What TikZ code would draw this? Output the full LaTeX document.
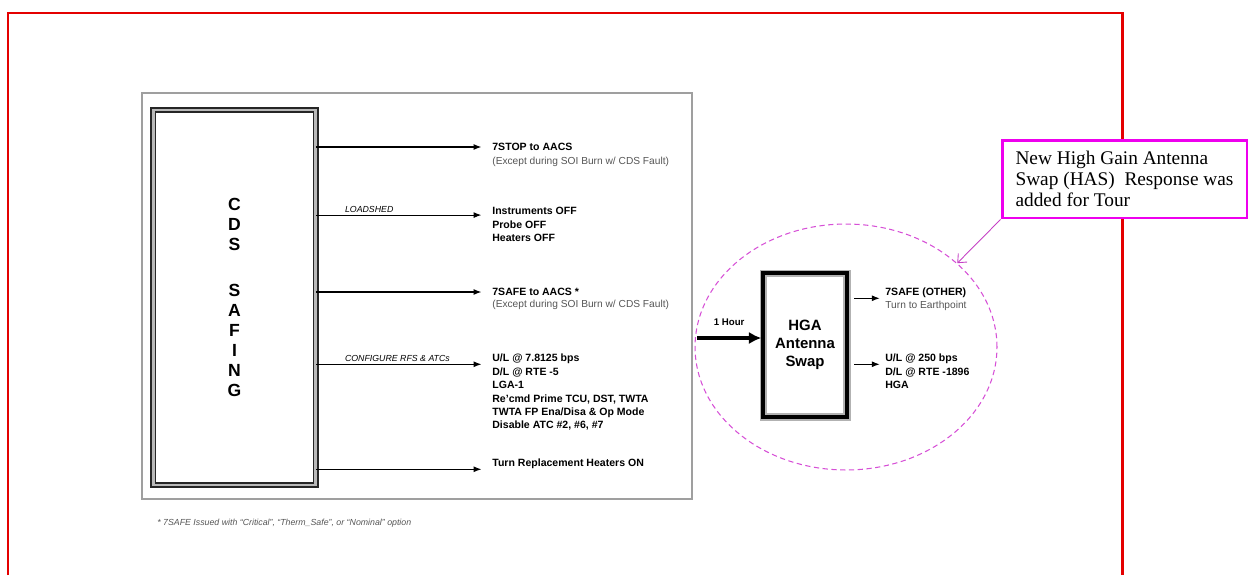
\documentclass[tikz,border=0pt]{standalone}
\usepackage{fontspec}
\setmainfont{Liberation Sans}
\newfontfamily\notefont{Liberation Serif}
\usepackage{xcolor}
\usepackage{tikz}
\usetikzlibrary{arrows.meta, shapes.geometric, positioning}

\definecolor{framered}{RGB}{228,0,0}
\definecolor{notepink}{RGB}{238,0,238}
\definecolor{loopink}{RGB}{214,80,214}
\definecolor{subgray}{RGB}{85,85,85}

\begin{document}
\begin{tikzpicture}[x=0.02cm, y=-0.02cm, >={Latex[length=4.5pt, width=3.4pt]},
    cmd/.style={->, line width=0.6pt, shorten >=#1}, cmd/.default=6pt,
    head/.style={font=\fontsize{6}{7.6}\selectfont\bfseries, inner sep=0pt, align=left, anchor=west},
    sub/.style={font=\fontsize{5.8}{7.6}\selectfont, text=subgray, inner sep=0pt, align=left, anchor=west},
    lab/.style={font=\fontsize{5}{6}\selectfont\itshape, inner sep=1pt, anchor=south west},
    safebox/.style={draw=black!85, double=gray!55, double distance=1.6pt, line width=0.8pt,
        minimum width=3.25cm, minimum height=7.5cm, align=center,
        font=\fontsize{10}{11.3}\selectfont\bfseries},
    swapbox/.style={draw=black, line width=2pt, preaction={draw=gray!60, line width=4pt},
        minimum width=1.68cm, minimum height=2.88cm, align=center,
        font=\fontsize{8.5}{10.2}\selectfont\bfseries},
    loop/.style={ellipse, draw=loopink, dashed, dash pattern=on 3pt off 2pt, line width=0.6pt,
        minimum width=6.04cm, minimum height=4.92cm, inner sep=0pt},
    note/.style={draw=notepink, line width=1.7pt, fill=white, minimum width=4.9cm,
        minimum height=1.56cm, inner xsep=7pt, align=left,
        font=\notefont\fontsize{11}{12}\selectfont},
]
\useasboundingbox (0,0) rectangle (1250,575);

\draw[framered, line width=1.7pt] (8,575) -- (8,13) -- (1122,13) -- (1122,575);
\draw[gray!75, line width=0.7pt] (142,93) rectangle (692,499);

\node[safebox] (cds) at (234.5,297.5) {C\\D\\S\\[15pt]S\\A\\F\\I\\N\\G};

\node[head] (stop)   at (492,147) {7STOP to AACS};
\node[sub]  (stopx)  at (492,162) {(Except during SOI Burn w/ CDS Fault)};
\node[head] (instr)  at (492,211) {Instruments OFF};
\node[head] (instrx) at (492,231.5) {Probe OFF\\Heaters OFF};
\node[head] (safe)   at (492,292) {7SAFE to AACS *};
\node[sub]  (safex)  at (492,305) {(Except during SOI Burn w/ CDS Fault)};
\node[head] (rf)     at (492,359) {U/L @ 7.8125 bps};
\node[head] (rfx)    at (492,399) {D/L @ RTE -5\\LGA-1\\Re’cmd Prime TCU, DST, TWTA\\TWTA FP Ena/Disa \& Op Mode\\Disable ATC \#2, \#6, \#7};
\node[head] (heat)   at (492,464) {Turn Replacement Heaters ON};

\draw[cmd] (cds.east |- stop.west) -- (stop.west);
\draw[cmd] (cds.east |- instr.south west) -- node[lab, pos=0.15] {LOADSHED} (instr.south west);
\draw[cmd] (cds.east |- safe.west) -- (safe.west);
\draw[cmd] (cds.east |- rf.south west) -- node[lab, pos=0.15] {CONFIGURE RFS \& ATCs} (rf.south west);
\draw[cmd] (cds.east |- heat.south west) -- (heat.south west);

\node[font=\fontsize{5}{6}\selectfont\itshape, text=subgray, anchor=west, inner sep=0pt] (fnote)
    at (157,523) {* 7SAFE Issued with “Critical”, “Therm\_Safe”, or “Nominal” option};

\node[loop] (has) at (846,347) {};
\node[swapbox] (hga) at (805,345) {HGA\\Antenna\\Swap};
\coordinate (hin) at (697,338);
\draw[-{Latex[length=7pt, width=7pt]}, line width=2.2pt] (hin)
    -- node[above=6pt, font=\fontsize{5.5}{6}\selectfont\bfseries, inner sep=0pt] {1 Hour} (hin -| hga.west);

\node[head] (alt)  at (885,293) {7SAFE (OTHER)};
\node[sub]  (altx) at (885,306) {Turn to Earthpoint};
\node[head] (hul)  at (885,359) {U/L @ 250 bps};
\node[head] (hulx) at (885,378.5) {D/L @ RTE -1896\\HGA};
\draw[cmd=3pt] ([xshift=3pt]hga.east |- alt.south west) -- (alt.south west);
\draw[cmd=3pt] ([xshift=3pt]hga.east |- hul.south west) -- (hul.south west);

\node[note] (note) at (1124.5,179) {New High Gain Antenna\\Swap (HAS)\ \ Response was\\added for Tour};
\draw[loopink!80!violet, line width=0.5pt, -{Straight Barb[length=4pt, width=7pt]}] (note.south west) -- (has.37);
\end{tikzpicture}
\end{document}
